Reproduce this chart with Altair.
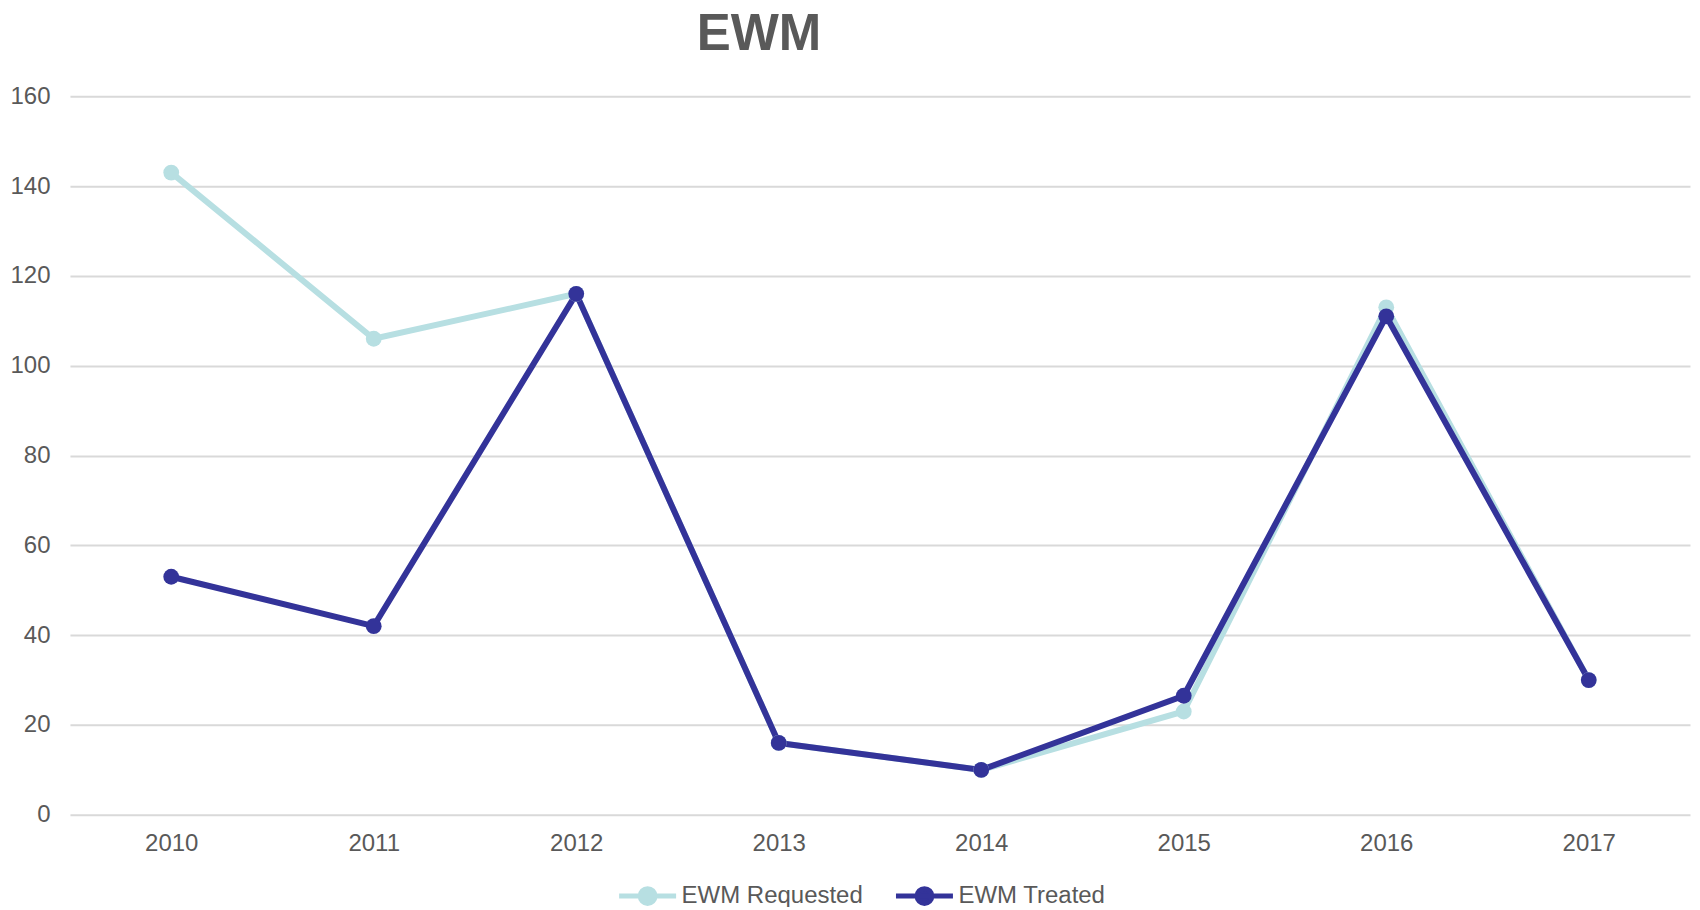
import altair as alt
import pandas as pd

years = ["2010", "2011", "2012", "2013", "2014", "2015", "2016", "2017"]
requested = [143, 106, 116, 16, 10, 23, 113, 30]
treated = [53, 42, 116, 16, 10, 26.5, 111, 30]
series_names = ["EWM Requested", "EWM Treated"]
series_colors = ["#b7dfe2", "#333399"]
y_ticks = [0, 20, 40, 60, 80, 100, 120, 140, 160]

rows = []
for i, (name, vals) in enumerate(zip(series_names, [requested, treated])):
    for y, v in zip(years, vals):
        rows.append({"year": y, "value": v, "series": name, "order": i})
df = pd.DataFrame(rows)

FONT = "Liberation Sans"
TXT = "#595959"

sym = "M-2,0 L2,0 M-0.52,0 A0.52,0.52 0 1,1 0.52,0 A0.52,0.52 0 1,1 -0.52,0 Z"

color = alt.Color(
    "series:N",
    scale=alt.Scale(domain=series_names, range=series_colors),
    legend=alt.Legend(
        title=None,
        orient="none",
        legendX=561,
        legendY=783,
        direction="horizontal",
        symbolType=sym,
        symbolSize=812,
        symbolStrokeWidth=5,
        symbolOpacity=1,
        labelFontSize=24,
        labelFont=FONT,
        labelColor=TXT,
        labelOffset=17,
        labelLimit=400,
        columnPadding=22,
        padding=0,
    ),
)

x = alt.X(
    "year:O",
    sort=years,
    scale=alt.Scale(type="point", padding=0.5),
    axis=alt.Axis(
        title=None,
        labelAngle=0,
        ticks=False,
        domain=False,
        grid=False,
        labelFontSize=24,
        labelFont=FONT,
        labelColor=TXT,
        labelPadding=17,
    ),
)
y = alt.Y(
    "value:Q",
    scale=alt.Scale(domain=[0, 160], nice=False),
    axis=alt.Axis(
        title=None,
        values=y_ticks,
        ticks=False,
        domain=False,
        gridColor="#d9d9d9",
        gridWidth=2,
        labelFontSize=24,
        labelFont=FONT,
        labelColor=TXT,
        labelPadding=20,
    ),
)

lines = alt.Chart(df).mark_line(strokeWidth=6).encode(
    x=x, y=y, color=color, detail="series:N", order="order:Q"
)
points = alt.Chart(df).mark_point(filled=True, size=250, opacity=1).encode(
    x=x, y=y, color=color, order="order:Q"
)

chart = (
    alt.layer(lines, points)
    .properties(
        width=1621,
        height=719,
        autosize=alt.AutoSizeParams(type="none"),
        padding={"left": 62, "top": 88, "right": 2, "bottom": 92},
        title=alt.TitleParams(
            "EWM",
            fontSize=51,
            fontWeight="bold",
            font=FONT,
            color=TXT,
            dx=-121,
            offset=23,
        ),
    )
    .configure_view(stroke=None)
)

chart.save("out.html", embed_options={"renderer": "svg", "actions": False})
